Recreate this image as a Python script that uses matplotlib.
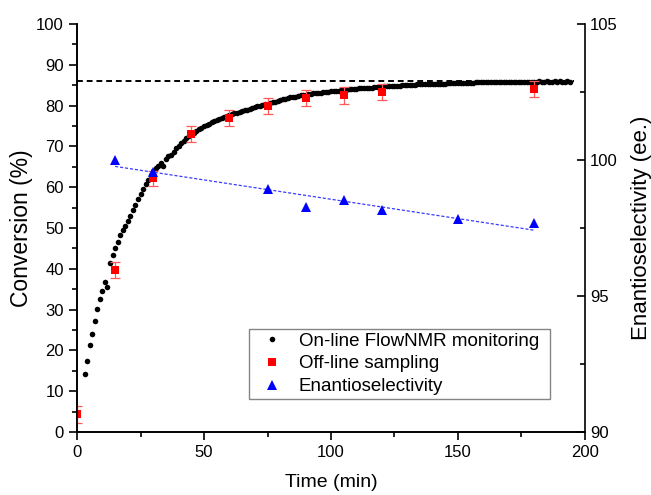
import numpy as np
import matplotlib
matplotlib.use("Agg")
import matplotlib.pyplot as plt
from matplotlib.ticker import MultipleLocator

plt.rcParams["font.family"] = ["Liberation Sans", "DejaVu Sans"]

# ── On-line FlowNMR conversion (one spectrum per minute) ─────────────────────
t_online = list(range(3, 195))
conv_online = [
    14.2, 17.3, 21.3, 24.0, 27.2, 30.1, 32.6, 34.5, 36.8, 35.5,
    41.5, 43.5, 45.1, 46.6, 48.2, 49.4, 50.6, 51.7, 52.9, 54.4,
    55.7, 57.0, 58.3, 59.6, 60.8, 61.8, 63.0, 63.9, 64.6, 65.3,
    65.9, 65.2, 66.9, 67.6, 68.0, 68.6, 69.5, 70.2, 70.8, 71.4,
    72.0, 72.5, 73.0, 73.4, 73.8, 74.2, 74.6, 75.0, 75.3, 75.6,
    75.9, 76.2, 76.5, 76.8, 77.0, 77.2, 77.5, 77.7, 77.9, 78.1,
    78.3, 78.5, 78.7, 78.8, 79.0, 79.2, 79.4, 79.6, 79.8, 79.9,
    80.1, 80.3, 80.4, 80.6, 80.8, 80.9, 81.1, 81.3, 81.5, 81.7,
    81.8, 82.0, 82.1, 82.2, 82.4, 82.5, 82.6, 82.7, 82.8, 82.9,
    83.0, 83.1, 83.1, 83.2, 83.3, 83.4, 83.4, 83.5, 83.6, 83.6,
    83.7, 83.8, 83.8, 83.9, 84.0, 84.0, 84.1, 84.1, 84.2, 84.2,
    84.3, 84.3, 84.4, 84.4, 84.5, 84.5, 84.6, 84.6, 84.7, 84.7,
    84.8, 84.8, 84.8, 84.9, 84.9, 85.0, 85.0, 85.0, 85.1, 85.1,
    85.1, 85.2, 85.2, 85.2, 85.2, 85.3, 85.3, 85.3, 85.3, 85.4,
    85.4, 85.4, 85.4, 85.5, 85.5, 85.5, 85.5, 85.5, 85.6, 85.6,
    85.6, 85.6, 85.6, 85.6, 85.7, 85.7, 85.7, 85.7, 85.7, 85.7,
    85.7, 85.8, 85.8, 85.8, 85.8, 85.8, 85.8, 85.9, 85.8, 85.9,
    85.9, 85.8, 85.9, 85.9, 85.9, 85.9, 85.9, 85.9, 85.9, 86.0,
    85.9, 85.9, 86.0, 85.9, 85.9, 86.0, 85.9, 86.0, 85.9, 85.9,
    86.0, 85.9,
]
plateau = 86.0

# ── Off-line samples ─────────────────────────────────────────────────────────
t_offline = [0, 15, 30, 45, 60, 75, 90, 105, 120, 180]
conv_offline = [4.3, 39.7, 62.2, 73.0, 76.9, 79.9, 81.8, 82.5, 83.3, 84.0]
conv_err = [2.0, 2.0, 1.8, 2.0, 2.0, 2.0, 2.0, 2.0, 2.0, 2.0]

# ── Enantioselectivity ───────────────────────────────────────────────────────
t_ee = [15, 30, 75, 90, 105, 120, 150, 180]
ee = [100.0, 99.57, 98.93, 98.26, 98.53, 98.16, 97.83, 97.67]

fig = plt.figure(figsize=(6.51, 4.95), dpi=100)
ax = fig.add_axes([0.1183, 0.1273, 0.7803, 0.8242])
ax2 = ax.twinx()

h1, = ax.plot(t_online, conv_online, "o", color="black", ms=4.0, mew=0,
              label="On-line FlowNMR monitoring", zorder=3)
ax.hlines(plateau, 0, t_online[-1] + 1.5, colors="black", linestyles=(0, (3, 2)),
          lw=1.4, zorder=2)
ax.errorbar(t_offline, conv_offline, yerr=conv_err, fmt="none",
            ecolor="#ff5a5a", elinewidth=0.9, capsize=3.5, capthick=0.9, zorder=4)
h2, = ax.plot(t_offline, conv_offline, "s", color="#ff0000", ms=5.2, mew=0,
              label="Off-line sampling", zorder=5)

# linear trend of the ee values
coeffs = np.polyfit(t_ee, ee, 1)
fit_t = np.array([t_ee[0], t_ee[-1]])
ax2.plot(fit_t, np.polyval(coeffs, fit_t), color="#3a3aff", lw=0.9,
         ls=(0, (2.5, 1.5)), zorder=2)
h3, = ax2.plot(t_ee, ee, "^", color="#0000ff", ms=6.5, mew=0,
               label="Enantioselectivity", zorder=5)

ax.set_xlim(0, 200)
ax.set_ylim(0, 100)
ax2.set_ylim(90, 105)

ax.xaxis.set_major_locator(MultipleLocator(50))
ax.xaxis.set_minor_locator(MultipleLocator(25))
ax.yaxis.set_major_locator(MultipleLocator(10))
ax.yaxis.set_minor_locator(MultipleLocator(5))
ax2.yaxis.set_major_locator(MultipleLocator(5))
ax2.yaxis.set_minor_locator(MultipleLocator(2.5))

for a in (ax, ax2):
    a.spines["top"].set_visible(False)
    for s in a.spines.values():
        s.set_linewidth(1.2)
ax.spines["right"].set_visible(False)

ax.tick_params(axis="both", which="major", direction="out", length=6, width=1.2,
               labelsize=12)
ax.tick_params(axis="both", which="minor", direction="out", length=3.5, width=1.2)
ax.tick_params(axis="x", top=False, which="both")
ax2.tick_params(axis="y", which="major", direction="in", length=6, width=1.2,
                labelsize=12)
ax2.tick_params(axis="y", which="minor", direction="in", length=3.5, width=1.2)

ax.set_xlabel("Time (min)", fontsize=14, labelpad=10)
ax.set_ylabel("Conversion (%)", fontsize=16.5)
ax.yaxis.set_label_coords(-0.087, 0.5)
ax2.set_ylabel("Enantioselectivity (ee.)", fontsize=16, labelpad=10)

leg = ax2.legend(handles=[h1, h2, h3], loc="lower left",
                 bbox_to_anchor=(0.339, 0.081, 0.592, 0.181), mode="expand",
                 fontsize=13.5, frameon=True, fancybox=False, borderaxespad=0,
                 handlelength=2.0, handletextpad=0.45, labelspacing=0.3,
                 borderpad=0.2, markerscale=1.0)
leg.get_frame().set_edgecolor("#666666")
leg.get_frame().set_linewidth(1.0)

fig.savefig("out.png", dpi=100)
